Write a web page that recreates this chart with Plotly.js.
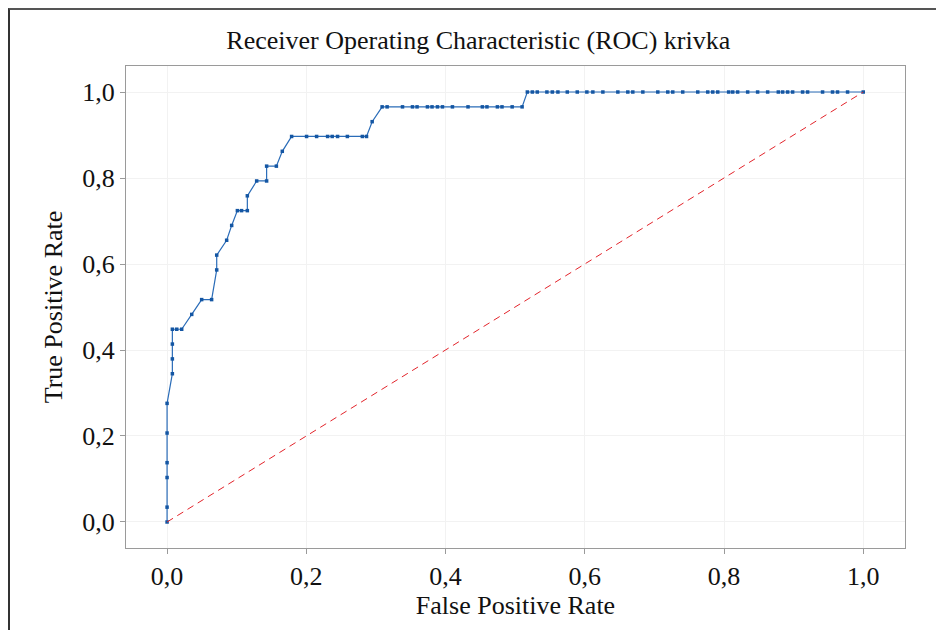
<!DOCTYPE html>
<html>
<head>
<meta charset="utf-8">
<script src="https://cdn.plot.ly/plotly-3.0.1.min.js"></script>
<style>
  html, body { margin: 0; padding: 0; background: #fff; }
  #wrap { position: relative; width: 936px; height: 630px; overflow: hidden; }
  #chart { position: absolute; left: 0; top: 0; width: 936px; height: 630px; }
  #frame { position: absolute; left: 8px; top: 8px; width: 2000px; height: 2000px;
           border-left: 2px solid #333; border-top: 2px solid #555; pointer-events: none; }
</style>
</head>
<body>
<div id="wrap">
  <div id="chart"></div>
  <div id="frame"></div>
</div>
<script>
// ROC curve points
const fpr = [
  0, 0, 0, 0, 0, 0,
  0.0076, 0.0076, 0.0076, 0.0076, 0.0139, 0.0210,
  0.0354, 0.0497, 0.0640, 0.0713, 0.0713, 0.0856, 0.0928,
  0.1010, 0.1070, 0.1153, 0.1153, 0.1287, 0.1430, 0.1430, 0.1570, 0.1655,
  0.1789, 0.2004, 0.2148, 0.2306, 0.2372, 0.2449, 0.2590, 0.2805, 0.2865,
  0.2946,
  0.3089, 0.3161, 0.3382, 0.3525, 0.3591, 0.3740, 0.3806, 0.3884, 0.3956,
  0.4099, 0.4323, 0.4529, 0.4595, 0.4745, 0.4811, 0.4957, 0.5100,
  0.5175, 0.5247, 0.5318, 0.5456, 0.5534, 0.5614, 0.5749, 0.5892, 0.6030,
  0.6116, 0.6260, 0.6475, 0.6618, 0.6690, 0.6834, 0.7049, 0.7192, 0.7264,
  0.7407, 0.7623, 0.7766, 0.7838, 0.7910, 0.8067, 0.8125, 0.8196, 0.8340,
  0.8483, 0.8627, 0.8780, 0.8842, 0.8914, 0.8986, 0.9129, 0.9201, 0.9416,
  0.9559, 0.9631, 0.9775, 1.0
];
const tpr = [
  0, 0.0345, 0.1034, 0.1379, 0.2069, 0.2759,
  0.3448, 0.3793, 0.4138, 0.4483, 0.4483, 0.4483,
  0.4828, 0.5172, 0.5172, 0.5862, 0.6207, 0.6552, 0.6897,
  0.7241, 0.7241, 0.7241, 0.7586, 0.7931, 0.7931, 0.8276, 0.8276, 0.8621,
  0.8966, 0.8966, 0.8966, 0.8966, 0.8966, 0.8966, 0.8966, 0.8966, 0.8966,
  0.9310,
  0.9655, 0.9655, 0.9655, 0.9655, 0.9655, 0.9655, 0.9655, 0.9655, 0.9655,
  0.9655, 0.9655, 0.9655, 0.9655, 0.9655, 0.9655, 0.9655, 0.9655,
  1, 1, 1, 1, 1, 1, 1, 1, 1,
  1, 1, 1, 1, 1, 1, 1, 1, 1,
  1, 1, 1, 1, 1, 1, 1, 1, 1,
  1, 1, 1, 1, 1, 1, 1, 1, 1,
  1, 1, 1, 1
];
// Reference diagonal (random classifier)
const diagX = [0, 1];
const diagY = [0, 1];
const tickVals = [0, 0.2, 0.4, 0.6, 0.8, 1.0];

const serif = '"Liberation Serif", "Times New Roman", Times, serif';

const traces = [
  {
    x: fpr, y: tpr, type: 'scatter', mode: 'lines+markers',
    line: { color: '#2a6cb8', width: 1.2 },
    marker: { symbol: 'square', size: 3.5, color: '#1456a3' },
    showlegend: false, hoverinfo: 'x+y'
  },
  {
    x: diagX, y: diagY, type: 'scatter', mode: 'lines',
    line: { color: '#e3242b', width: 1, dash: '7px,5px' },
    showlegend: false
  }
];

const axisCommon = {
  showgrid: true, gridcolor: '#f2f2f2', gridwidth: 1,
  zeroline: false,
  showline: true, linecolor: '#9a9a9a', linewidth: 1, mirror: true,
  ticks: 'outside', ticklen: 5, tickcolor: '#9a9a9a', tickwidth: 1,
  tickvals: tickVals, tickformat: '.1f',
  tickfont: { family: serif, size: 26, color: '#111' }
};

const layout = {
  width: 936, height: 630,
  paper_bgcolor: '#ffffff', plot_bgcolor: '#ffffff',
  separators: ', ',
  margin: { l: 126, r: 31, t: 66, b: 82, pad: 0 },
  title: {
    text: 'Receiver Operating Characteristic (ROC) krivka',
    font: { family: serif, size: 26, color: '#111' },
    x: 0.511, xref: 'container', xanchor: 'center',
    y: 0.937, yref: 'container', yanchor: 'middle'
  },
  xaxis: Object.assign({}, axisCommon, {
    range: [-0.059, 1.06],
    title: { text: 'False Positive Rate', font: { family: serif, size: 26, color: '#111' }, standoff: 0 }
  }),
  yaxis: Object.assign({}, axisCommon, {
    range: [-0.0605, 1.0605],
    title: { text: 'True Positive Rate', font: { family: serif, size: 26, color: '#111' }, standoff: 12 }
  }),
  showlegend: false
};

Plotly.newPlot('chart', traces, layout, { displayModeBar: false, staticPlot: true });
</script>
</body>
</html>
